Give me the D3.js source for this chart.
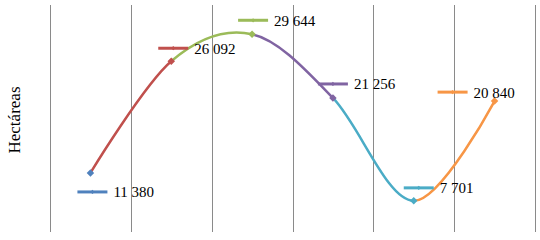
<!DOCTYPE html>
<html>
<head>
<meta charset="utf-8">
<script src="https://cdn.jsdelivr.net/npm/d3@7"></script>
<style>
  body { margin: 0; background: #fff; }
  text { font-family: "Liberation Serif", "Times New Roman", serif; fill: #000; }
</style>
</head>
<body>
<div id="chart"></div>
<script>
// data
const categories = ['c1', 'c2', 'c3', 'c4', 'c5', 'c6']
const values = [11380, 26092, 29644, 21256, 7701, 20840]
const labels = ['11 380', '26 092', '29 644', '21 256', '7 701', '20 840']
const colors = ['#4F81BD', '#C0504D', '#9BBB59', '#8064A2', '#4BACC6', '#F79646']

// label placement (offset of leader center from point, px)
const label_dx = [2, 2, 1, 0, 5, -42]
const label_dy = [19, -13, -14, -14, -13, -9]

// constants
const width = 540
const height = 240
const margin = {top: 5, right: 5, bottom: 8, left: 50}
const innerWidth = width - margin.left - margin.right
const innerHeight = height - margin.top - margin.bottom

const svg = d3.select('#chart')
    .append('svg')
        .attr('width', width)
        .attr('height', height)

const g = svg.append('g')
    .attr('transform', `translate(${margin.left}, ${margin.top})`)

const x = d3.scaleBand()
    .domain(categories)
    .range([0, innerWidth])
    .paddingInner(0)
    .paddingOuter(0)

const y = d3.scaleLinear()
    .domain([3600, 33500])
    .range([innerHeight, 0])

// vertical gridlines at category boundaries
const bounds = categories.map(c => x(c)).concat([innerWidth])
g.selectAll('line.grid')
    .data(bounds)
    .join('line')
        .attr('class', 'grid')
        .attr('x1', d => Math.round(d) + 0.5)
        .attr('x2', d => Math.round(d) + 0.5)
        .attr('y1', 0)
        .attr('y2', innerHeight)
        .attr('stroke', '#8a8a8a')
        .attr('stroke-width', 1)

// axis title
svg.append('text')
    .attr('transform', `translate(20, 120) rotate(-90)`)
    .attr('text-anchor', 'middle')
    .style('font-size', '17px')
    .text('Hectáreas')

const pts = values.map((v, i) => ({x: x(categories[i]) + x.bandwidth() / 2, y: y(v)}))

const line_generator = d3.line()
    .x(d => d.x)
    .y(d => d.y)
    .curve(d3.curveCardinal.tension(0))

// each segment coloured like its end point, drawn from the full smooth curve
const defs = svg.append('defs')
for (let i = 1; i < pts.length; i++) {
    defs.append('clipPath')
        .attr('id', 'seg' + i)
        .append('rect')
            .attr('x', pts[i - 1].x)
            .attr('y', -margin.top)
            .attr('width', pts[i].x - pts[i - 1].x)
            .attr('height', height)
    g.append('path')
        .datum(pts)
        .attr('d', line_generator)
        .attr('clip-path', `url(#seg${i})`)
        .attr('fill', 'none')
        .attr('stroke', colors[i])
        .attr('stroke-width', 2.5)
}

const diamond = d3.symbol().type(d3.symbolSquare)

// markers
g.selectAll('path.marker')
    .data(pts)
    .join('path')
        .attr('class', 'marker')
        .attr('transform', d => `translate(${d.x}, ${d.y}) rotate(45)`)
        .attr('d', diamond.size(28)())
        .attr('fill', (d, i) => colors[i])

// data labels with leader keys
pts.forEach((p, i) => {
    const cx = p.x + label_dx[i]
    const cy = p.y + label_dy[i]
    const lab = g.append('g').attr('transform', `translate(${cx}, ${cy})`)
    lab.append('line')
        .attr('x1', -15)
        .attr('x2', 15)
        .attr('stroke', colors[i])
        .attr('stroke-width', 3)
    lab.append('path')
        .attr('transform', 'rotate(45)')
        .attr('d', diamond.size(9)())
        .attr('fill', colors[i])
    lab.append('text')
        .attr('x', 21)
        .attr('y', 5.5)
        .style('font-size', '15px')
        .text(labels[i])
})
</script>
</body>
</html>
